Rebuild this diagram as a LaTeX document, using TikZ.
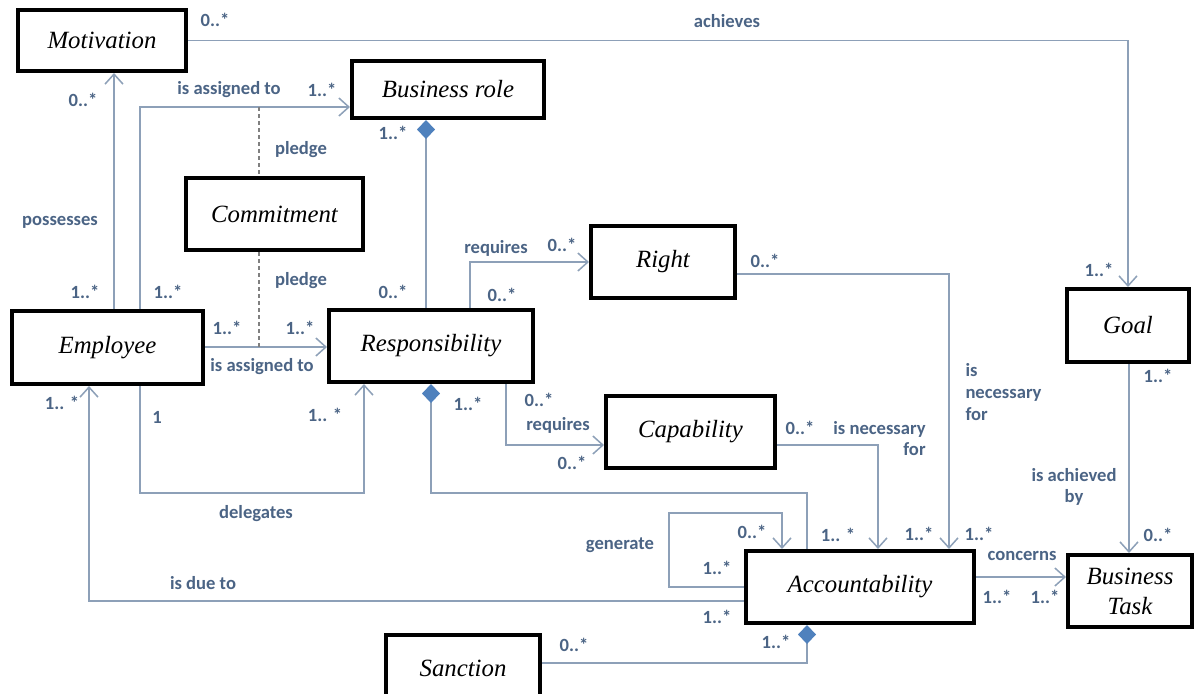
\documentclass[tikz,border=0pt]{standalone}
\usepackage{fontspec}
\setmainfont{Liberation Serif}
\newfontfamily\lblfamily{Carlito}
\usetikzlibrary{arrows.meta}

\definecolor{linegray}{HTML}{8DA0B8}
\definecolor{labelblue}{HTML}{4B6485}
\definecolor{diamondblue}{HTML}{4F81BD}

\tikzset{
  cls/.style={draw=black, line width=2pt, fill=white, inner sep=2pt, font=\fontsize{12.4}{15}\selectfont\itshape},
  assoc/.style={draw=linegray, line width=0.75pt, -{Straight Barb[length=5pt,width=9pt]}},
  comp/.style={draw=linegray, line width=0.75pt, {Diamond[length=9.5pt,width=9pt,color=diamondblue,fill=diamondblue]}-},
  pledgeline/.style={draw=gray, line width=0.6pt, dash pattern=on 2pt off 1.5pt},
  lbl/.style={text=labelblue, inner sep=0pt, font=\lblfamily\bfseries\fontsize{9.3}{10.8}\selectfont},
}

\begin{document}
\begin{tikzpicture}[x=0.5pt, y=-0.5pt]
    \useasboundingbox[fill=white] (0,0) rectangle (1195,693);
    \clip (0,0) rectangle (1195,693);

    % Classes
    \node[cls, minimum width=84pt, minimum height=30.5pt] (mot) at (102,40.5) {Motivation};
    \node[cls, minimum width=96pt, minimum height=28.5pt] (role) at (448,89.5) {Business role};
    \node[cls, minimum width=88.5pt, minimum height=36pt] (com) at (274.5,214) {Commitment};
    \node[cls, minimum width=95.5pt, minimum height=36.5pt] (emp) at (107.5,347.5) {Employee};
    \node[cls, minimum width=102pt, minimum height=36pt] (resp) at (431,346) {Responsibility};
    \node[cls, minimum width=72pt, minimum height=36pt] (right) at (663,262) {Right};
    \node[cls, minimum width=84.5pt, minimum height=36pt] (cap) at (690.5,432) {Capability};
    \node[cls, minimum width=61pt, minimum height=36.5pt] (goal) at (1128,325.5) {Goal};
    \node[cls, minimum width=114pt, minimum height=36pt] (acc) at (860,587) {Accountability};
    \node[cls, minimum width=62pt, minimum height=36pt, align=center] (task) at (1130,591) {Business\\Task};
    \node[cls, minimum width=77pt, minimum height=33pt] (san) at (463,668) {Sanction};

    % Associations
    \draw[assoc] (mot.east) -| (goal.north);
    \draw[assoc] (emp.north -| 114,0) -- (mot.south -| 114,0);
    \draw[assoc] (emp.north -| 140,0) |- (role.west |- 0,107);
    \draw[assoc] (emp.east |- 0,347) -- (resp.west |- 0,347);
    \draw[assoc] (resp.north -| 470,0) |- (right.west);
    \draw[assoc] (resp.south -| 506,0) |- (cap.west |- 0,445);
    \draw[assoc] (cap.east |- 0,445) -| (acc.north -| 878,0);
    \draw[assoc] (right.east |- 0,274) -| (acc.north -| 949,0);
    \draw[assoc] (acc.west |- 0,587) -| (669,513) -| (acc.north -| 782,0);
    \draw[assoc] (acc.west |- 0,601) -| (emp.south -| 89,0);
    \draw[assoc] (emp.south -| 140,0) |- (364,493) -- (resp.south -| 364,0);
    \draw[assoc] (goal.south -| 1129,0) -- (task.north -| 1129,0);
    \draw[assoc] (acc.east |- 0,577) -- (task.west |- 0,577);

    % Compositions
    \draw[comp] (role.south -| 426,0) -- (resp.north -| 426,0);
    \draw[comp] (resp.south -| 431,0) -- (431,493) -| (acc.north -| 807,0);
    \draw[comp] (acc.south -| 807,0) |- (san.east |- 0,663);

    % Pledge links
    \coordinate (p1) at (259,107);
    \coordinate (p2) at (259,347);
    \draw[pledgeline] (p1) -- (com.north -| p1);
    \draw[pledgeline] (com.south -| p2) -- (p2);

    % Multiplicities
    \foreach \x/\y/\t [count=\i] in {215/20/0..*, 1099/270/1..*, 83/100/0..*, 85/292/1..*,
        168/292/1..*, 322/90/1..*, 227/328/1..*, 300/328/1..*, 393/133/1..*, 393/292/0..*,
        562/245/0..*, 502/295/0..*, 539/400/0..*, 572/463/0..*, 468/404/1..*, 765/261/0..*,
        800/428/0..*, 838/535/1.. *, 919/534/1..*, 979/534/1..*, 752/532/0..*, 717/568/1..*,
        62/403/1.. *, 717/617/1..*, 157/417/1, 325/415/1.. *, 574/645/0..*, 776/642/1..*,
        1158/376/1..*, 1158/535/0..*, 997/597/1..*, 1045/597/1..*} {
      \node[lbl] (m\i) at (\x,\y) {\t};
    }

    % Role names
    \node[lbl] (achieves) at (727,21) {achieves};
    \node[lbl] (possesses) at (60,222) {possesses};
    \node[lbl] (assignrole) at (229,90) {is assigned to};
    \node[lbl] (pledgeA) at (301,150) {pledge};
    \node[lbl] (pledgeB) at (301,281) {pledge};
    \node[lbl] (assignresp) at (262,367) {is assigned to};
    \node[lbl] (reqright) at (496,248) {requires};
    \node[lbl] (reqcap) at (558,425) {requires};
    \node[lbl] (delegates) at (256,514) {delegates};
    \node[lbl] (duedue) at (203,583) {is due to};
    \node[lbl] (generate) at (620,545) {generate};
    \node[lbl, align=right] (capnec) at (879.5,438.5) {is necessary\\for};
    \node[lbl, align=left] (rightnec) at (1003.5,392) {is\\necessary\\for};
    \node[lbl, align=center] (achievedby) at (1074,487) {is achieved\\by};
    \node[lbl] (concerns) at (1022,556) {concerns};
\end{tikzpicture}
\end{document}
